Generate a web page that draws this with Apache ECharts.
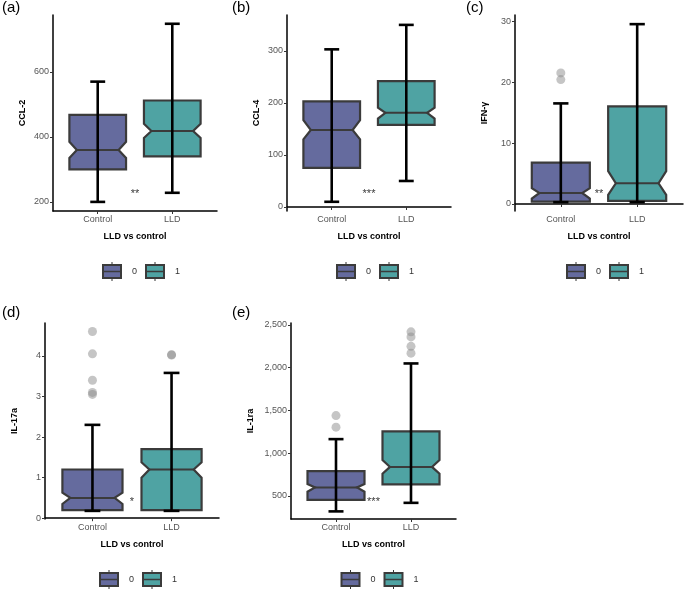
<!DOCTYPE html>
<html>
<head>
<meta charset="utf-8">
<script src="https://cdn.jsdelivr.net/npm/echarts@6/dist/echarts.min.js"></script>
<style>html,body{margin:0;padding:0;background:#fff}#c{width:685px;height:599px}</style>
</head>
<body>
<div id="c"></div>
<script>
// box stats: [x, min, q1, notchLo, median, notchHi, q3, max]
var categories = ['Control', 'LLD'];
var boxA = [[1, 200, 300, 335, 360, 385, 468, 570], [2, 228, 340, 397, 418, 440, 512, 748]];
var boxB = [[1, 10, 75, 130, 148, 167, 203, 303], [2, 50, 158, 170, 181, 191, 242, 350]];
var boxC = [[1, 0.3, 0.4, 0.9, 1.8, 2.6, 6.8, 16.5], [2, 0.3, 0.5, 1.5, 3.4, 5.4, 16, 29.5]];
var boxD = [[1, 0.18, 0.2, 0.35, 0.5, 0.63, 1.2, 2.3], [2, 0.18, 0.2, 1.0, 1.2, 1.38, 1.7, 3.58]];
var boxE = [[1, 320, 455, 550, 600, 640, 790, 1165], [2, 420, 635, 760, 840, 920, 1255, 2050]];
var outA = [], outB = [];
var outC = [[1, 21.5], [1, 20.4]];
var outD = [[1, 4.6], [1, 4.05], [1, 3.4], [1, 3.1], [1, 3.05], [2, 4.03], [2, 4.02]];
var outE = [[1, 1440], [1, 1305], [2, 2420], [2, 2360], [2, 2250], [2, 2170]];
var yNames = ['CCL-2', 'CCL-4', 'IFN-γ', 'IL-17a', 'IL-1ra'];
var yTicks = [[200, 400, 600], [0, 100, 200, 300], [0, 10, 20, 30], [0, 1, 2, 3, 4], [500, 1000, 1500, 2000, 2500]];
var yRange = [[172, 775], [-7.7, 369], [-1.15, 31], [-0.02, 4.81], [231, 2523]];
var stars = ['**', '***', '**', '*', '***'];
var starY = [225, 25, 1.6, 0.4, 430];
var tags = ['(a)', '(b)', '(c)', '(d)', '(e)'];
var colors = ['#656b9e', '#4fa3a3'];

var boxes = [boxA, boxB, boxC, boxD, boxE];
var outs = [outA, outB, outC, outD, outE];
var grids = [
  {left: 53, top: 15, width: 164, height: 196},
  {left: 287, top: 15, width: 164, height: 196},
  {left: 515, top: 15, width: 168, height: 196},
  {left: 45, top: 323, width: 174, height: 196},
  {left: 291, top: 323, width: 165, height: 196}
];

function renderBox(params, api) {
  var x = api.value(0);
  var w = 0.38, n = 0.1, c = 0.1;
  function p(dx, v) { return api.coord([x + dx, v]); }
  var mn = api.value(1), q1 = api.value(2), nl = api.value(3), md = api.value(4),
      nh = api.value(5), q3 = api.value(6), mx = api.value(7);
  var poly = [p(-w, q1), p(w, q1), p(w, nl), p(w - n, md), p(w, nh), p(w, q3),
              p(-w, q3), p(-w, nh), p(-w + n, md), p(-w, nl)];
  var a = p(-w + n, md), b = p(w - n, md), lo = p(0, mn), hi = p(0, mx);
  var cl1 = p(-c, mn), cr1 = p(c, mn), cl2 = p(-c, mx), cr2 = p(c, mx);
  return {type: 'group', children: [
    {type: 'polygon', shape: {points: poly},
     style: {fill: colors[params.dataIndex], stroke: '#3b3b3b', lineWidth: 2.2}},
    {type: 'line', shape: {x1: a[0], y1: a[1], x2: b[0], y2: b[1]}, style: {stroke: '#3b3b3b', lineWidth: 2}},
    {type: 'line', shape: {x1: lo[0], y1: lo[1], x2: hi[0], y2: hi[1]}, style: {stroke: '#000', lineWidth: 2.6}},
    {type: 'line', shape: {x1: cl1[0], y1: cl1[1], x2: cr1[0], y2: cr1[1]}, style: {stroke: '#000', lineWidth: 2.6}},
    {type: 'line', shape: {x1: cl2[0], y1: cl2[1], x2: cr2[0], y2: cr2[1]}, style: {stroke: '#000', lineWidth: 2.6}}
  ]};
}

var xAxes = [], yAxes = [], series = [], graphic = [];
grids.forEach(function (g, i) {
  xAxes.push({gridIndex: i, type: 'value', min: 0.4, max: 2.6, name: 'LLD vs control',
    nameLocation: 'middle', nameGap: 21,
    nameTextStyle: {fontFamily: 'Liberation Sans', fontWeight: 'bold', fontSize: 9, color: '#000'},
    axisLine: {lineStyle: {color: '#000', width: 1.5}},
    axisTick: {customValues: [1, 2], length: 3, lineStyle: {color: '#333'}},
    axisLabel: {customValues: [1, 2], formatter: function (v) { return categories[Math.round(v) - 1]; },
      color: '#555', fontSize: 9, fontFamily: 'Liberation Sans', margin: 4},
    splitLine: {show: false}});
  yAxes.push({gridIndex: i, type: 'value', min: yRange[i][0], max: yRange[i][1], name: yNames[i],
    nameLocation: 'middle', nameGap: i === 4 ? 36 : 26,
    nameTextStyle: {fontFamily: 'Liberation Sans', fontWeight: 'bold', fontSize: 9, color: '#000'},
    axisLine: {show: true, lineStyle: {color: '#000', width: 1.5}},
    axisTick: {show: true, customValues: yTicks[i], length: 3, lineStyle: {color: '#333'}},
    axisLabel: {customValues: yTicks[i], color: '#555', fontSize: 9, fontFamily: 'Liberation Sans', margin: 4},
    splitLine: {show: false}});
  series.push({type: 'scatter', xAxisIndex: i, yAxisIndex: i, data: outs[i], symbolSize: 9,
    itemStyle: {color: '#8c8c8c', opacity: 0.5}, z: 1});
  series.push({type: 'custom', xAxisIndex: i, yAxisIndex: i, renderItem: renderBox,
    data: boxes[i], encode: {x: 0, y: [1, 7]}, z: 2});
  series.push({type: 'scatter', xAxisIndex: i, yAxisIndex: i, data: [[1.5, starY[i]]], symbolSize: 0,
    label: {show: true, formatter: stars[i], position: 'inside', fontSize: 11, color: '#000', fontFamily: 'Liberation Sans'}, z: 3});

  var row = i < 3 ? 0 : 1;
  graphic.push({type: 'text', left: i % 3 === 0 ? 2 : (i === 1 || i === 4 ? 232 : 466), top: row ? 305 : 0,
    style: {text: tags[i], fontSize: 15, fontFamily: 'Liberation Sans', fill: '#000'}});
  var cx = g.left + g.width / 2 + 5, ly = row ? 573 : 265;
  [0, 1].forEach(function (k) {
    var bx = cx - 37 + k * 43;
    graphic.push({type: 'line', shape: {x1: bx + 9, y1: ly - 3, x2: bx + 9, y2: ly + 16}, style: {stroke: '#333', lineWidth: 1}});
    graphic.push({type: 'rect', shape: {x: bx, y: ly, width: 18, height: 13},
      style: {fill: colors[k], stroke: '#3b3b3b', lineWidth: 2}});
    graphic.push({type: 'line', shape: {x1: bx, y1: ly + 6.5, x2: bx + 18, y2: ly + 6.5}, style: {stroke: '#3b3b3b', lineWidth: 1.5}});
    graphic.push({type: 'text', x: bx + 29, y: ly + 2, style: {text: String(k), fontSize: 9, fill: '#333', fontFamily: 'Liberation Sans'}});
  });
});

var chart = echarts.init(document.getElementById('c'));
chart.setOption({
  animation: false,
  grid: grids,
  xAxis: xAxes,
  yAxis: yAxes,
  series: series,
  graphic: graphic
});
</script>
</body>
</html>
